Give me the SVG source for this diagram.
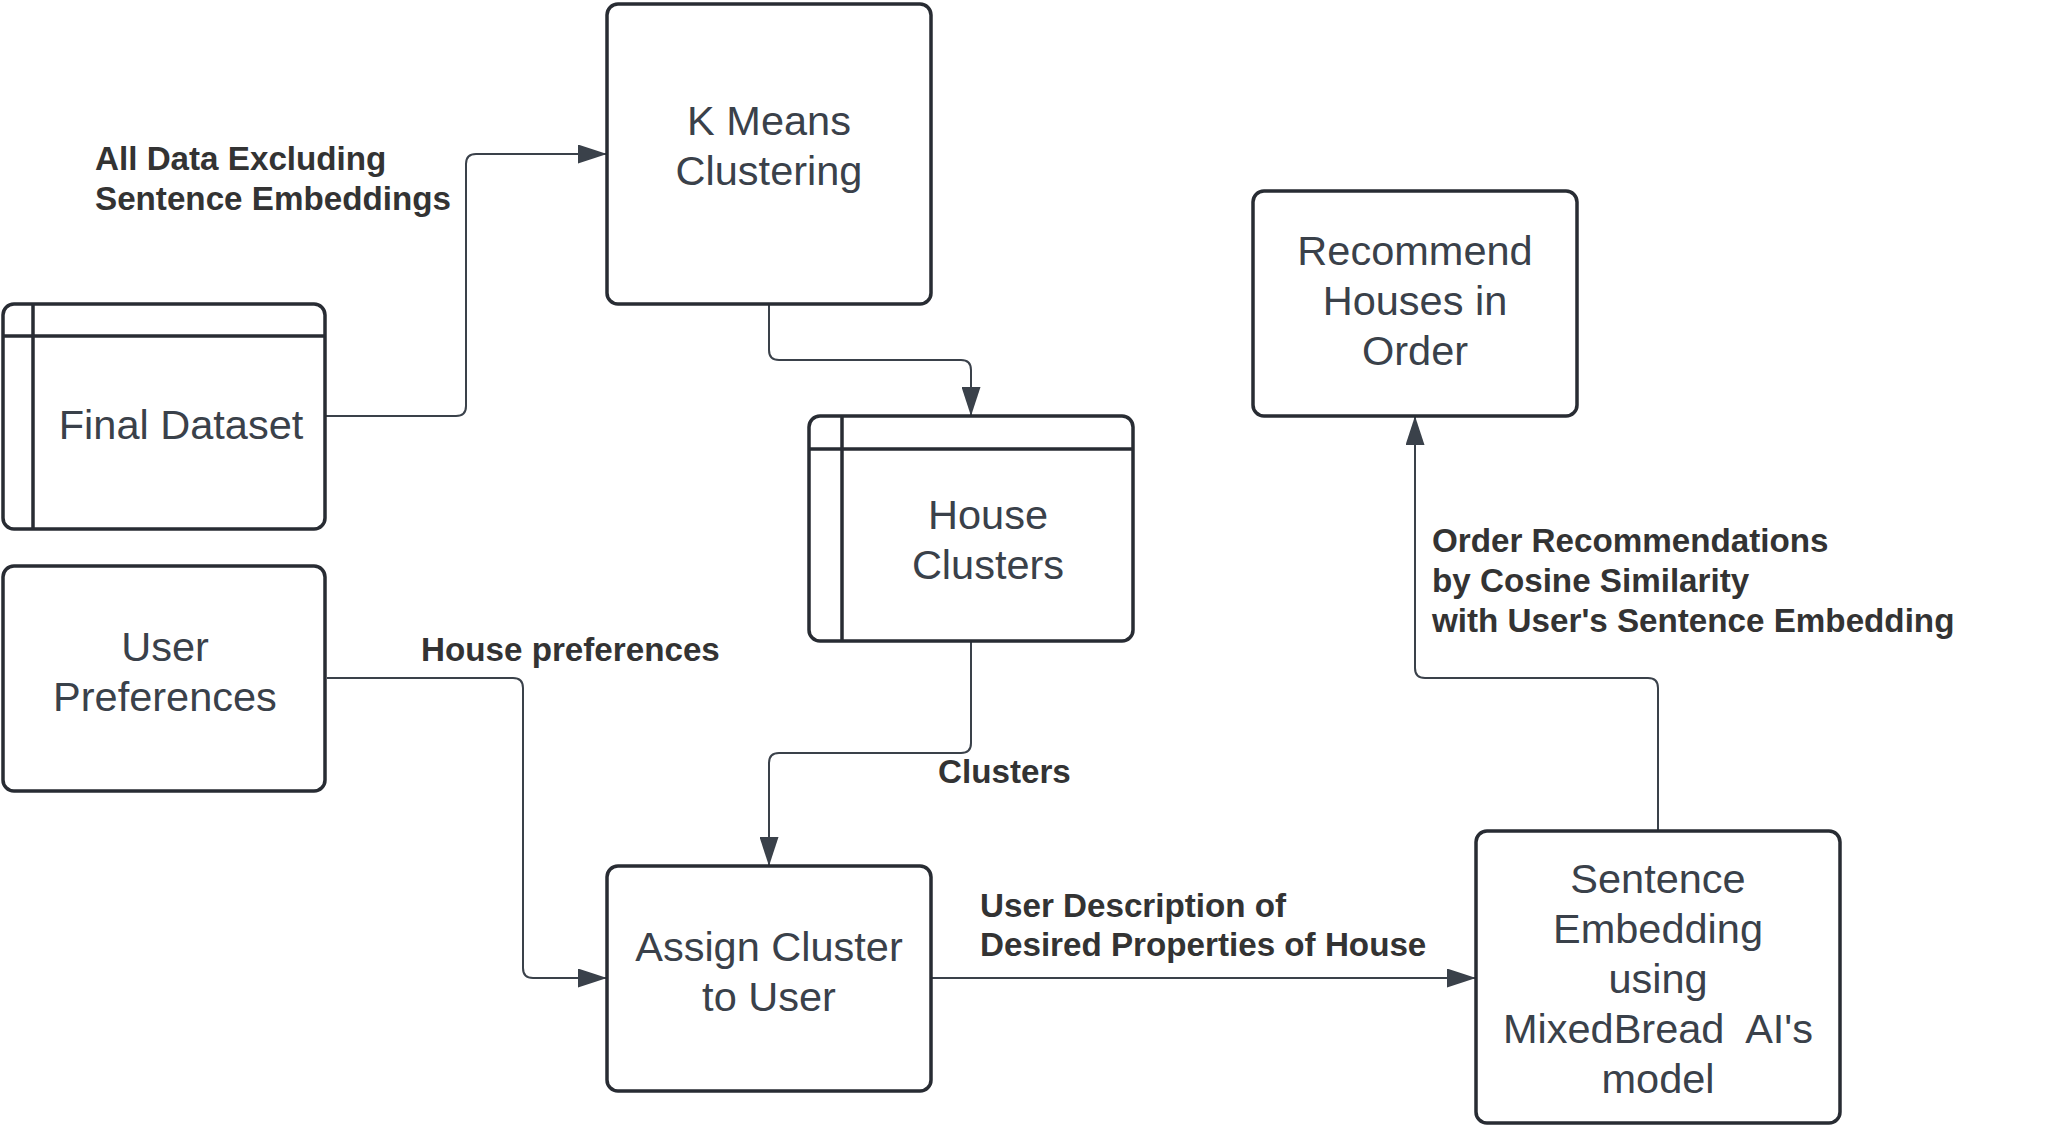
<svg xmlns="http://www.w3.org/2000/svg" width="2064" height="1125" viewBox="0 0 2064 1125">
<defs>
<style>
.box{fill:#ffffff;stroke:#282c33;stroke-width:3.5}
.div{stroke:#282c33;stroke-width:3.5;fill:none}
.t{font-family:"Liberation Sans",Arial,sans-serif;font-size:41.5px;fill:#3a414a;text-anchor:middle}
.lbl{font-family:"Liberation Sans",Arial,sans-serif;font-size:33.2px;font-weight:bold;fill:#333333}
.c{fill:none;stroke:#3a414a;stroke-width:2}
</style>
<marker id="arr" viewBox="0 0 29 19" refX="29" refY="9.5" markerWidth="29" markerHeight="19" markerUnits="userSpaceOnUse" orient="auto">
<path d="M0,0 L29,9.5 L0,19 Z" fill="#3a414a"/>
</marker>
</defs>
<rect width="2064" height="1125" fill="#ffffff"/>
<g id="connectors">
<path class="c" d="M325,416 H456 Q466,416 466,406 V164 Q466,154 476,154 H607" marker-end="url(#arr)"/>
<path class="c" d="M769,305 V350 Q769,360 779,360 H961 Q971,360 971,370 V416" marker-end="url(#arr)"/>
<path class="c" d="M971,641 V743 Q971,753 961,753 H779 Q769,753 769,763 V866" marker-end="url(#arr)"/>
<path class="c" d="M327,678 H513 Q523,678 523,688 V968 Q523,978 533,978 H607" marker-end="url(#arr)"/>
<path class="c" d="M931,978 H1476" marker-end="url(#arr)"/>
<path class="c" d="M1658,831 V688 Q1658,678 1648,678 H1425 Q1415,678 1415,668 V416" marker-end="url(#arr)"/>
</g>
<g id="labels">
<text class="lbl" x="95" y="170">All Data Excluding</text>
<text class="lbl" x="95" y="210">Sentence Embeddings</text>
<text class="lbl" x="421" y="661">House preferences</text>
<text class="lbl" x="938" y="783">Clusters</text>
<text class="lbl" x="980" y="917">User Description of</text>
<text class="lbl" x="980" y="956">Desired Properties of House</text>
<text class="lbl" x="1432" y="552">Order Recommendations</text>
<text class="lbl" x="1432" y="592">by Cosine Similarity</text>
<text class="lbl" x="1432" y="632">with User's Sentence Embedding</text>
</g>
<g id="final-dataset">
<rect class="box" x="3" y="304" width="322" height="225" rx="11"/>
<path class="div" d="M3,336 H325 M33,304 V529"/>
<text class="t" x="181" y="439">Final Dataset</text>
</g>
<g id="k-means">
<rect class="box" x="607" y="4" width="324" height="300" rx="11"/>
<text class="t" x="769" y="135">K Means</text>
<text class="t" x="769" y="185">Clustering</text>
</g>
<g id="house-clusters">
<rect class="box" x="809" y="416" width="324" height="225" rx="11"/>
<path class="div" d="M809,449 H1133 M842,416 V641"/>
<text class="t" x="988" y="529">House</text>
<text class="t" x="988" y="579">Clusters</text>
</g>
<g id="recommend">
<rect class="box" x="1253" y="191" width="324" height="225" rx="11"/>
<text class="t" x="1415" y="265">Recommend</text>
<text class="t" x="1415" y="315">Houses in</text>
<text class="t" x="1415" y="365">Order</text>
</g>
<g id="user-preferences">
<rect class="box" x="3" y="566" width="322" height="225" rx="11"/>
<text class="t" x="165" y="661">User</text>
<text class="t" x="165" y="711">Preferences</text>
</g>
<g id="assign-cluster">
<rect class="box" x="607" y="866" width="324" height="225" rx="11"/>
<text class="t" x="769" y="961">Assign Cluster</text>
<text class="t" x="769" y="1011">to User</text>
</g>
<g id="sentence-embedding">
<rect class="box" x="1476" y="831" width="364" height="292" rx="11"/>
<text class="t" x="1658" y="893">Sentence</text>
<text class="t" x="1658" y="943">Embedding</text>
<text class="t" x="1658" y="993">using</text>
<text class="t" x="1658" y="1043" xml:space="preserve">MixedBread  AI's</text>
<text class="t" x="1658" y="1093">model</text>
</g>
</svg>
